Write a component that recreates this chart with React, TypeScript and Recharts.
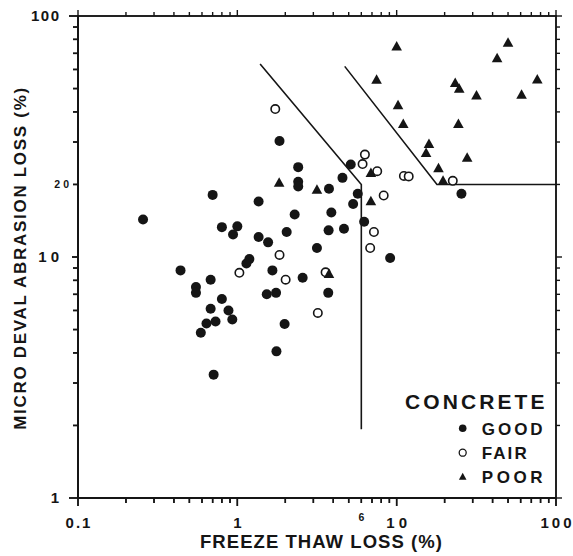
import React from 'react';
import { ScatterChart, Scatter, XAxis, YAxis, Legend, ReferenceArea } from 'recharts';

const FONT = '"Liberation Sans", Arial, Helvetica, sans-serif';
const INK = '#151515';

// ---- axis ticks ----
const xTicks = [0.1, 0.2, 0.3, 0.4, 0.5, 0.6, 0.7, 0.8, 0.9, 1, 2, 3, 4, 5, 6, 7, 8, 9, 10, 20, 30, 40, 50, 60, 70, 80, 90, 100];
const yTicks = [1, 2, 3, 4, 5, 6, 7, 8, 9, 10, 20, 30, 40, 50, 60, 70, 80, 90, 100];
const xTickLabels: Record<string, string> = { '0.1': '0.1', '1': '1', '10': '10', '100': '100' };
const yTickLabels: Record<string, string> = { '1': '1', '10': '10', '100': '100' };
const xMinorLabels: Record<string, string> = { '6': '6' };
const yMinorLabels: Record<string, string> = { '20': '20' };
const xLabelSpacing: Record<string, number> = { '0.1': 2, '1': 0, '10': 4, '100': 3 };
const yLabelSpacing: Record<string, number> = { '1': 0, '10': 4, '100': 1.5 };
const xDomain = [0.1, 100];
const yDomain = [1, 100];

// ---- data: [freeze thaw loss %, micro deval abrasion loss %] ----
const goodPoints: [number, number][] = [
  [1.84, 30.3], [2.41, 23.6], [2.41, 20.5], [2.41, 19.6], [0.70, 18.1], [1.36, 17.0], [2.29, 15.0],
  [0.256, 14.3], [0.80, 13.3], [1.0, 13.4], [0.94, 12.4], [2.04, 12.7], [1.36, 12.1], [1.56, 11.5],
  [1.19, 9.8], [3.16, 10.9], [5.15, 24.2], [4.57, 21.3], [3.76, 19.2], [5.70, 18.3], [5.33, 16.6],
  [3.89, 15.3], [6.25, 14.0], [3.74, 12.9], [4.67, 13.1], [9.1, 9.9], [25.5, 18.3], [0.44, 8.8],
  [1.14, 9.4], [1.66, 8.8], [2.57, 8.2], [0.68, 8.05], [0.55, 7.5], [0.55, 7.1], [0.80, 6.7],
  [1.53, 7.0], [1.75, 7.1], [0.68, 6.1], [0.88, 6.0], [0.93, 5.5], [0.73, 5.4], [0.64, 5.3],
  [0.59, 4.85], [1.98, 5.27], [1.76, 4.06], [0.71, 3.25], [3.72, 7.1],
];
const fairPoints: [number, number][] = [
  [1.73, 41.1], [1.84, 10.2], [6.32, 26.6], [6.11, 24.3], [7.55, 22.7], [11.1, 21.7], [11.9, 21.6],
  [22.5, 20.7], [8.29, 18.0], [7.2, 12.7], [6.82, 10.9], [1.03, 8.6], [2.01, 8.05], [3.2, 5.86], [3.58, 8.64],
];
const poorPoints: [number, number][] = [
  [10.0, 74.6], [50.0, 77.3], [42.7, 66.8], [7.48, 54.3], [76.3, 54.4], [23.3, 52.7], [24.7, 49.8],
  [31.7, 46.7], [60.8, 47.1], [10.2, 42.6], [11.0, 35.6], [24.4, 35.6], [15.95, 29.4], [15.3, 27.0],
  [27.7, 25.8], [18.3, 23.3], [19.55, 20.7], [6.89, 22.3], [3.16, 19.0], [1.83, 20.3], [6.89, 17.0], [3.76, 8.5],
];
const boundaryA: [number, number][] = [[1.39, 63.2], [6, 20], [6, 1.93]];
const boundaryB: [number, number][] = [[4.72, 61.8], [17.9, 20], [100, 20]];

const legendItems = ['GOOD', 'FAIR', 'POOR'];
const legendSpacing = [3, 2.1, 3.6];

const toXY = (arr: [number, number][]) => arr.map(([x, y]) => ({ x, y }));

// frame built from the axis domains
const frameLB = [{ x: xDomain[0], y: yDomain[1] }, { x: xDomain[0], y: yDomain[0] }, { x: xDomain[1], y: yDomain[0] }];
const frameTR = [{ x: xDomain[0], y: yDomain[1] }, { x: xDomain[1], y: yDomain[1] }, { x: xDomain[1], y: yDomain[0] }];
// tick-mark positions built from the tick arrays
const bottomMarks = xTicks.map((v) => ({ x: v, y: yDomain[0], major: !!xTickLabels[String(v)] }));
const topMarks = xTicks.map((v) => ({ x: v, y: yDomain[1], major: !!xTickLabels[String(v)] }));
const leftMarks = yTicks.map((v) => ({ x: xDomain[0], y: v, major: !!yTickLabels[String(v)], ten: v === 10 }));
const rightMarks = yTicks.map((v) => ({ x: xDomain[1], y: v, major: !!yTickLabels[String(v)] }));

const textStyle = { fontFamily: FONT, fontWeight: 'bold' as const, fill: INK };

const pl = (p: any) => (p && p.payload) ? p.payload : p;
const BottomMark = (p: any) => <path d={`M${p.cx},${p.cy}V${p.cy + (pl(p).major ? 8 : 5)}`} stroke={INK} strokeWidth={1.5} fill="none" />;
const TopMark = (p: any) => <path d={`M${p.cx},${p.cy}V${p.cy - (pl(p).major ? 6 : 4)}`} stroke={INK} strokeWidth={1.4} fill="none" />;
const LeftMark = (p: any) => {
  const d = pl(p);
  const len = d.ten ? 6 : d.major ? 9 : 5;
  return <path d={`M${p.cx},${p.cy}H${p.cx - len}`} stroke={INK} strokeWidth={1.5} fill="none" />;
};
const RightMark = (p: any) => <path d={`M${p.cx},${p.cy}H${p.cx + (pl(p).major ? 6 : 4)}`} stroke={INK} strokeWidth={1.4} fill="none" />;

function BottomTick(props: any) {
  const { x, y, payload } = props;
  const key = String(payload.value);
  const label = xTickLabels[key];
  const sp = xLabelSpacing[key] || 0;
  const len = label ? 8 : 5;
  return (
    <g>
      <line x1={x} x2={x} y1={y} y2={y + len} stroke={INK} strokeWidth={1.5} />
      {label && (
        <text x={x + sp / 2} y={y + 29.5} textAnchor="middle" fontSize={15} letterSpacing={sp} {...textStyle}>{label}</text>
      )}
      {xMinorLabels[key] && (
        <text x={x} y={y + 22.5} textAnchor="middle" fontSize={10.5} {...textStyle}>{xMinorLabels[key]}</text>
      )}
    </g>
  );
}

function LeftTick(props: any) {
  const { x, y, payload } = props;
  const key = String(payload.value);
  const label = yTickLabels[key];
  const sp = yLabelSpacing[key] || 0;
  const len = key === '10' ? 6 : label ? 9 : 5;
  return (
    <g>
      <line x1={x} x2={x - len} y1={y} y2={y} stroke={INK} strokeWidth={1.5} />
      {label && (
        <text x={x - 19 + sp} y={y + 5.3} textAnchor="end" fontSize={15} letterSpacing={sp} {...textStyle}>{label}</text>
      )}
      {yMinorLabels[key] && (
        <text x={x - 9 + 3} y={y + 3.8} textAnchor="end" fontSize={10.5} letterSpacing={3} {...textStyle}>{yMinorLabels[key]}</text>
      )}
    </g>
  );
}

function XTitle(props: any) {
  const vb = props.viewBox;
  return (
    <text x={vb.x + vb.width / 2 + 4.5} y={vb.y + 50.3} textAnchor="middle" fontSize={18.5} letterSpacing={1.05} {...textStyle}>
      FREEZE THAW LOSS (%)
    </text>
  );
}

function YTitle(props: any) {
  const vb = props.viewBox;
  const cx = vb.x + 8;
  const cy = vb.y + vb.height / 2 + 1;
  return (
    <text x={cx} y={cy} textAnchor="middle" fontSize={17} letterSpacing={1.7} {...textStyle}
      transform={`rotate(-90 ${cx} ${cy})`}>
      MICRO DEVAL ABRASION LOSS (%)
    </text>
  );
}

const GoodDot = (p: any) => <circle cx={p.cx} cy={p.cy} r={5} fill={INK} />;
const FairDot = (p: any) => <circle cx={p.cx} cy={p.cy} r={4.2} fill="#fff" stroke={INK} strokeWidth={1.6} />;
const PoorTri = (p: any) => (
  <polygon points={`${p.cx},${p.cy - 5.6} ${p.cx - 5.3},${p.cy + 3.9} ${p.cx + 5.3},${p.cy + 3.9}`} fill={INK} />
);
const NoDot = () => <g />;

function LegendBox() {
  const rows = [43.3, 67.7, 91.7];
  return (
    <svg width={165} height={105} style={{ display: 'block' }}>
      <text x={10} y={23.5} fontSize={21} letterSpacing={3.1} {...textStyle}>CONCRETE</text>
      <circle cx={67.7} cy={rows[0]} r={3.8} fill={INK} />
      <circle cx={67.7} cy={rows[1]} r={3.5} fill="#fff" stroke={INK} strokeWidth={1.3} />
      <polygon points={`67.7,${rows[2] - 4} 63.9,${rows[2] + 3} 71.5,${rows[2] + 3}`} fill={INK} />
      {legendItems.map((t, i) => (
        <text key={t} x={86.7} y={rows[i] + 6.3} fontSize={17} letterSpacing={legendSpacing[i]} {...textStyle}>{t}</text>
      ))}
    </svg>
  );
}

export default function App() {
  return (
    <div style={{ position: 'absolute', left: 0, top: 0 }}>
      <ScatterChart width={573} height={556} margin={{ top: 16, right: 17, bottom: 18, left: 18 }}>
        <XAxis xAxisId="b" dataKey="x" type="number" scale="log" domain={xDomain}
          ticks={xTicks} interval={0} tick={<BottomTick />} tickLine={false} tickSize={0} tickMargin={0}
          axisLine={{ stroke: INK, strokeWidth: 2 }} height={40} orientation="bottom" label={<XTitle />} />
        <YAxis yAxisId="l" dataKey="y" type="number" scale="log" domain={yDomain}
          ticks={yTicks} interval={0} tick={<LeftTick />} tickLine={false} tickSize={0} tickMargin={0}
          axisLine={{ stroke: INK, strokeWidth: 2 }} width={60} orientation="left" label={<YTitle />} />
        <ReferenceArea xAxisId="b" yAxisId="l" x1={xDomain[0]} x2={xDomain[1]} y1={yDomain[0]} y2={yDomain[1]}
          ifOverflow="visible" fill="none" fillOpacity={0} stroke={INK} strokeWidth={1.5} />
        <Scatter xAxisId="b" yAxisId="l" data={frameLB} line={{ stroke: INK, strokeWidth: 2 }}
          lineType="joint" shape={<NoDot />} isAnimationActive={false} legendType="none" />
        <Scatter xAxisId="b" yAxisId="l" data={frameTR} line={{ stroke: INK, strokeWidth: 1.5 }}
          lineType="joint" shape={<NoDot />} isAnimationActive={false} legendType="none" />
        <Scatter xAxisId="b" yAxisId="l" data={bottomMarks} shape={<BottomMark />} isAnimationActive={false} legendType="none" />
        <Scatter xAxisId="b" yAxisId="l" data={topMarks} shape={<TopMark />} isAnimationActive={false} legendType="none" />
        <Scatter xAxisId="b" yAxisId="l" data={leftMarks} shape={<LeftMark />} isAnimationActive={false} legendType="none" />
        <Scatter xAxisId="b" yAxisId="l" data={rightMarks} shape={<RightMark />} isAnimationActive={false} legendType="none" />
        <Scatter xAxisId="b" yAxisId="l" data={toXY(boundaryA)} line={{ stroke: INK, strokeWidth: 1.6 }}
          lineType="joint" shape={<NoDot />} isAnimationActive={false} legendType="none" />
        <Scatter xAxisId="b" yAxisId="l" data={toXY(boundaryB)} line={{ stroke: INK, strokeWidth: 1.6 }}
          lineType="joint" shape={<NoDot />} isAnimationActive={false} legendType="none" />
        <Scatter xAxisId="b" yAxisId="l" name="GOOD" data={toXY(goodPoints)} shape={<GoodDot />} isAnimationActive={false} />
        <Scatter xAxisId="b" yAxisId="l" name="FAIR" data={toXY(fairPoints)} shape={<FairDot />} isAnimationActive={false} />
        <Scatter xAxisId="b" yAxisId="l" name="POOR" data={toXY(poorPoints)} shape={<PoorTri />} isAnimationActive={false} />
        <Legend content={<LegendBox />} layout="horizontal" verticalAlign="middle" align="center"
          wrapperStyle={{ left: 395, top: 385, width: 165, height: 105 }} />
      </ScatterChart>
    </div>
  );
}
